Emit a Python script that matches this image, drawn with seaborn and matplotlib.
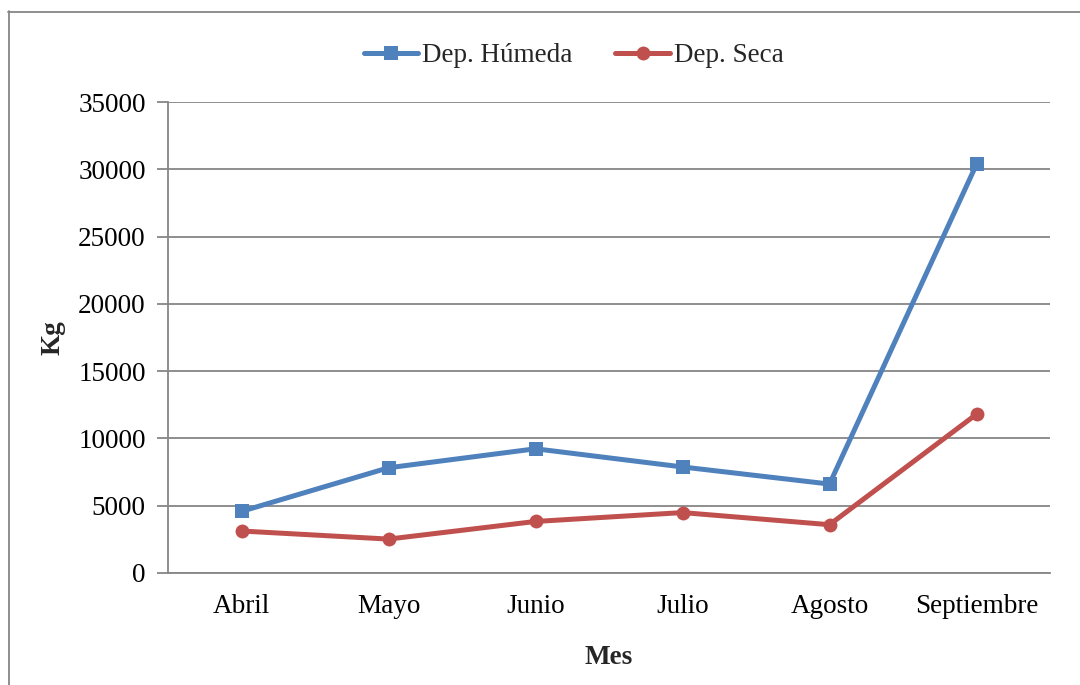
import matplotlib
matplotlib.use("Agg")
import matplotlib.pyplot as plt
from matplotlib.lines import Line2D
import seaborn as sns
import pandas as pd

meses = ["Abril", "Mayo", "Junio", "Julio", "Agosto", "Septiembre"]
dep_humeda = [4580, 7820, 9230, 7880, 6610, 30370]
dep_seca = [3120, 2520, 3830, 4490, 3590, 11800]
series_names = ["Dep. Húmeda", "Dep. Seca"]
colors = ["#4F81BD", "#C0504D"]
y_ticks = [0, 5000, 10000, 15000, 20000, 25000, 30000, 35000]

sns.set_theme(style="white")
plt.rcParams["font.family"] = ["Liberation Serif", "DejaVu Serif"]

df = pd.DataFrame({
    "Mes": meses * 2,
    "Kg": dep_humeda + dep_seca,
    "Serie": [series_names[0]] * len(meses) + [series_names[1]] * len(meses),
})
df["pos"] = list(range(len(meses))) * 2

fs = 19.5

fig = plt.figure(figsize=(10.8, 6.85), dpi=100)
ax = fig.add_axes([168 / 1080, 1 - 573 / 685, (1050 - 168) / 1080, (573 - 102) / 685])

sns.lineplot(
    data=df, x="pos", y="Kg", hue="Serie", style="Serie",
    palette=colors, markers=["s", "o"], dashes=False,
    linewidth=3.6, markersize=10, markeredgewidth=0, ax=ax, legend=False,
)

ax.set_xlim(-0.5, len(meses) - 0.5)
ax.set_ylim(0, 35000)
ax.set_yticks(y_ticks)
ax.set_yticklabels([str(v) for v in y_ticks])
ax.set_xticks(range(len(meses)))
ax.set_xticklabels(meses)

ax.grid(axis="y", color="#868686", linewidth=1.3)
ax.grid(axis="x", visible=False)
ax.set_axisbelow(True)
for side in ["top", "right"]:
    ax.spines[side].set_visible(False)
for side in ["left", "bottom"]:
    ax.spines[side].set_color("#868686")
    ax.spines[side].set_linewidth(1.3)

ax.tick_params(axis="y", which="major", length=8, width=1.3, color="#868686",
               labelsize=fs, pad=8, left=True)
ax.tick_params(axis="x", which="major", length=0, labelsize=fs, pad=15)
for lab in ax.get_xticklabels() + ax.get_yticklabels():
    lab.set_color("black")

ax.set_xlabel("Mes", fontsize=fs, fontweight="bold", labelpad=19)
ax.set_ylabel("Kg", fontsize=fs, fontweight="bold", labelpad=9)

handles = [
    Line2D([0], [0], color=colors[0], linewidth=3.6, marker="s", markersize=10,
           markeredgewidth=0, solid_capstyle="round"),
    Line2D([0], [0], color=colors[1], linewidth=3.6, marker="o", markersize=10,
           markeredgewidth=0, solid_capstyle="round"),
]
fig.legend(handles, series_names, loc="center", bbox_to_anchor=(0.531, 1 - 56 / 685),
           ncol=2, frameon=False, fontsize=fs, handlelength=2.0, handletextpad=0.15,
           columnspacing=1.6)

# chart frame
frame_color = "#868686"
fig.add_artist(Line2D([8.5 / 1080, 8.5 / 1080], [1 - 11 / 685, 0], color=frame_color,
                      linewidth=1.3, transform=fig.transFigure))
fig.add_artist(Line2D([8 / 1080, 1], [1 - 11.5 / 685, 1 - 11.5 / 685], color=frame_color,
                      linewidth=1.3, transform=fig.transFigure))

fig.savefig("out.png", dpi=100)
